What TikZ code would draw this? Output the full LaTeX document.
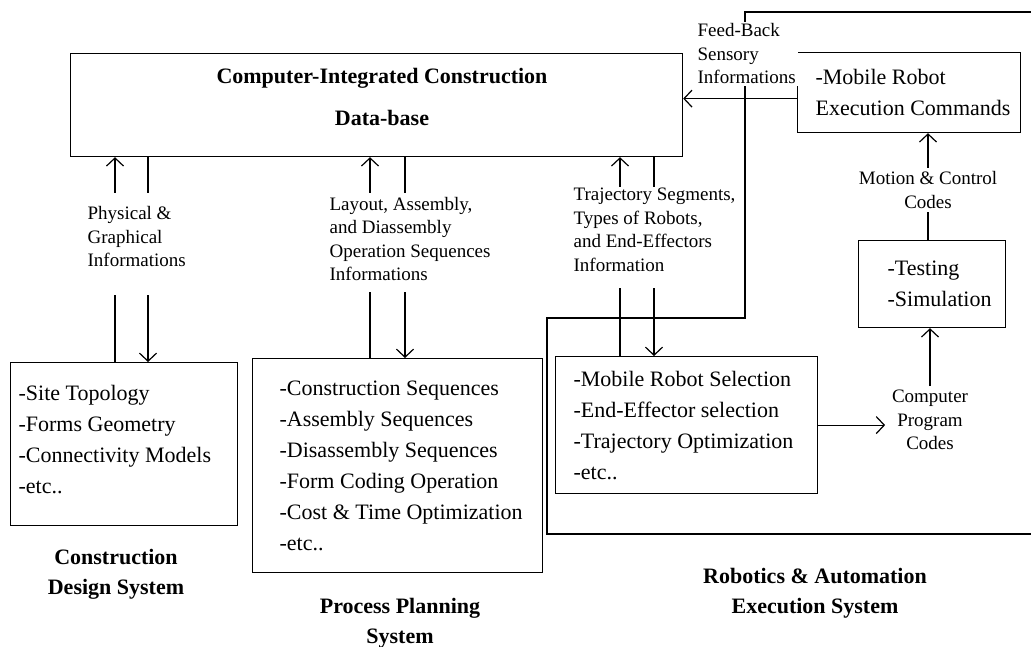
\documentclass[tikz,border=0pt]{standalone}
\usepackage{fontspec}
\setmainfont{Liberation Serif}
\usetikzlibrary{arrows.meta}
\newcommand{\boxsize}{\fontsize{22}{31}\selectfont}
\newcommand{\labsize}{\fontsize{19}{23.5}\selectfont}
\newcommand{\ttlsize}{\fontsize{22}{30}\selectfont\bfseries}

\begin{document}
\begin{tikzpicture}[x=1pt,y=-1pt,line width=1.2pt,>={Straight Barb[length=8pt,width=17pt]}]
    \tikzstyle{sysbox}=[draw,rectangle,anchor=north west,inner sep=0pt]
    \tikzstyle{items}=[anchor=west,align=left,font=\boxsize,inner sep=0pt]
    \tikzstyle{info}=[align=left,font=\labsize]
    \tikzstyle{systitle}=[align=center,font=\ttlsize]
    \useasboundingbox (0,0) rectangle (1031,647);
    %%% HELP LINES - uncomment to design/extend
    %\draw[step=50,gray,very thin] (0,0) grid (1031,647);
    % Data-base
    \node at (70,53) [sysbox,minimum width=612pt,minimum height=103pt] (DB) {};
    \node at (382,96.5) [systitle] (DBT) {Computer-Integrated Construction\\[12pt]Data-base};
    % Construction design
    \node at (10,362) [sysbox,minimum width=227pt,minimum height=163pt] (CDS) {};
    \node at ([xshift=8pt,yshift=5pt]CDS.west) [items] (CDSI) {-Site Topology\\-Forms Geometry\\-Connectivity Models\\-etc..};
    \node at (116,574) [systitle] (CDST) {Construction\\Design System};
    % Process planning
    \node at (252,358) [sysbox,minimum width=290pt,minimum height=214pt] (PPS) {};
    \node at ([xshift=27pt]PPS.west) [items] (PPSI) {-Construction Sequences\\-Assembly Sequences\\-Disassembly Sequences\\-Form Coding Operation\\-Cost \& Time Optimization\\-etc..};
    \node at (400,623) [systitle] (PPST) {Process Planning\\System};
    % Robotics & automation
    \draw (1031,12) -- (745,12) -- (745,318) -- (547,318) -- (547,534) -- (1031,534);
    \node at (555,356) [sysbox,minimum width=262pt,minimum height=137pt] (RSEL) {};
    \node at ([xshift=18pt]RSEL.west) [items] (RSELI) {-Mobile Robot Selection\\-End-Effector selection\\-Trajectory Optimization\\-etc..};
    \node at (797,52) [sysbox,minimum width=223pt,minimum height=80pt] (EXEC) {};
    \node at ([xshift=18pt]EXEC.west) [items] (EXECI) {-Mobile Robot\\Execution Commands};
    \node at (858,240) [sysbox,minimum width=147pt,minimum height=87pt] (TEST) {};
    \node at ([xshift=29pt]TEST.west) [items] (TESTI) {-Testing\\-Simulation};
    \node at (815,593) [systitle] (RAT) {Robotics \& Automation\\Execution System};
    % information labels
    \node at (87,237) [info,anchor=west,inner sep=0pt] (PHYS) {Physical \&\\Graphical\\Informations};
    \node at (329,239) [info,anchor=west,inner sep=0pt] (LAYOUT) {Layout, Assembly,\\and Diassembly\\Operation Sequences\\Informations};
    \node at (573,230) [info,anchor=west,inner sep=0pt] (TRAJ) {Trajectory Segments,\\Types of Robots,\\and End-Effectors\\Information};
    \node at (695,54) [info,anchor=west,fill=white,inner sep=2pt] (FEED) {Feed-Back\\Sensory\\Informations};
    \node at (928,190) [info,align=center] (MOTION) {Motion \& Control\\Codes};
    \node at (930,420) [info,align=center] (PROG) {Computer\\Program\\Codes};

    \coordinate (c1t) at (115,193); \coordinate (c1b) at (115,295);
    \coordinate (c2t) at (148,193); \coordinate (c2b) at (148,295);
    \coordinate (p1t) at (370,193); \coordinate (p1b) at (370,292);
    \coordinate (p2t) at (405,193); \coordinate (p2b) at (405,292);
    \coordinate (r1t) at (620,187); \coordinate (r1b) at (620,288);
    \coordinate (r2t) at (654,187); \coordinate (r2b) at (654,288);
    \coordinate (fb) at ([yshift=-6pt]EXEC.west);

    \path
    (c1t) edge [->] (c1t |- DB.south)
    (c1b) edge (c1b |- CDS.north)
    (c2t) edge (c2t |- DB.south)
    (c2b) edge [->] (c2b |- CDS.north)
    (p1t) edge [->] (p1t |- DB.south)
    (p1b) edge (p1b |- PPS.north)
    (p2t) edge (p2t |- DB.south)
    (p2b) edge [->] (p2b |- PPS.north)
    (r1t) edge [->] (r1t |- DB.south)
    (r1b) edge (r1b |- RSEL.north)
    (r2t) edge (r2t |- DB.south)
    (r2b) edge [->] (r2b |- RSEL.north)
    (fb) edge [->] (fb -| DB.east)
    (MOTION.north) edge [->] (MOTION.north |- EXEC.south)
    (MOTION.south) edge (MOTION.south |- TEST.north)
    (PROG.north) edge [->] (PROG.north |- TEST.south)
    (RSEL.east) edge [->,shorten >=3pt] (RSEL.east -| PROG.west);
\end{tikzpicture}
\end{document}
